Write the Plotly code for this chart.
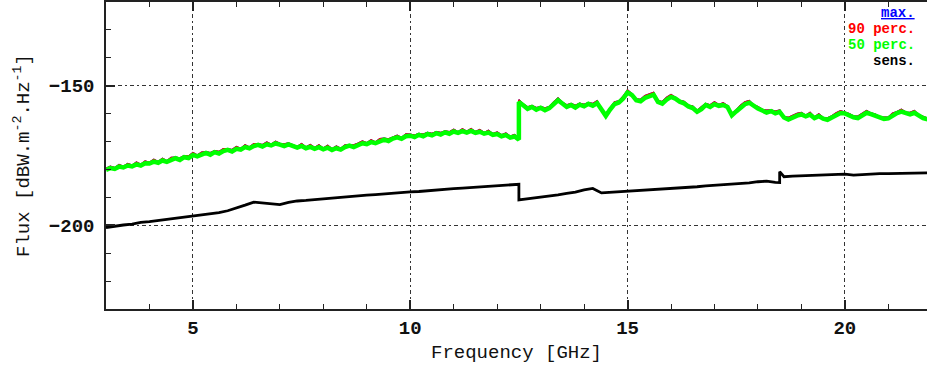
import plotly.graph_objects as go

# ---------------- data ----------------
freq = [
    3.0, 3.1, 3.2, 3.3, 3.4, 3.5, 3.6, 3.7, 3.8, 3.9,
    4.0, 4.1, 4.2, 4.3, 4.4, 4.5, 4.6, 4.7, 4.8, 4.9,
    5.0, 5.1, 5.2, 5.3, 5.4, 5.5, 5.6, 5.7, 5.8, 5.9,
    6.0, 6.1, 6.2, 6.3, 6.4, 6.5, 6.6, 6.7, 6.8, 6.9,
    7.0, 7.1, 7.2, 7.3, 7.4, 7.5, 7.6, 7.7, 7.8, 7.9,
    8.0, 8.1, 8.2, 8.3, 8.4, 8.5, 8.6, 8.7, 8.8, 8.9,
    9.0, 9.1, 9.2, 9.3, 9.4, 9.5, 9.6, 9.7, 9.8, 9.9,
    10.0, 10.1, 10.2, 10.3, 10.4, 10.5, 10.6, 10.7, 10.8, 10.9,
    11.0, 11.1, 11.2, 11.3, 11.4, 11.5, 11.6, 11.7, 11.8, 11.9,
    12.0, 12.1, 12.2, 12.3, 12.4,
    12.5, 12.5,
    12.6, 12.7, 12.8, 12.9,
    13.0, 13.1, 13.2, 13.3, 13.4, 13.5, 13.6, 13.7, 13.8, 13.9,
    14.0, 14.1, 14.2, 14.3, 14.4, 14.5, 14.6, 14.7, 14.8, 14.9,
    15.0, 15.1, 15.2, 15.3, 15.4, 15.5, 15.6, 15.7, 15.8, 15.9,
    16.0, 16.1, 16.2, 16.3, 16.4, 16.5, 16.6, 16.7, 16.8, 16.9,
    17.0, 17.1, 17.2, 17.3, 17.4, 17.5, 17.6, 17.7, 17.8, 17.9,
    18.0, 18.1, 18.2, 18.3, 18.4, 18.5, 18.6, 18.7, 18.8, 18.9,
    19.0, 19.1, 19.2, 19.3, 19.4, 19.5, 19.6, 19.7, 19.8, 19.9,
    20.0, 20.1, 20.2, 20.3, 20.4, 20.5, 20.6, 20.7, 20.8, 20.9,
    21.0, 21.1, 21.2, 21.3, 21.4, 21.5, 21.6, 21.7, 21.8, 21.9,
    22.0,
]

p50_vals = [
    -180.2, -179.5, -179.8, -179.0, -179.3, -178.6, -178.9, -178.2, -178.6, -177.8,
    -177.9, -177.2, -177.6, -176.8, -177.3, -176.5, -176.0, -176.6, -175.6, -175.9,
    -174.8, -175.3, -174.6, -174.1, -174.7, -173.8, -174.3, -173.4, -173.0, -173.6,
    -172.6, -172.9, -172.0, -172.4, -171.6, -171.2, -171.8, -171.0, -171.4, -170.7,
    -171.1, -171.6, -171.0, -171.8, -172.2, -171.6, -172.4, -171.9, -172.6, -172.0,
    -172.8, -172.2, -173.0, -172.4, -172.9, -172.0, -171.5, -172.0, -171.1, -170.6,
    -170.9, -170.2, -170.6, -169.8, -169.3, -169.8, -168.9, -168.5, -169.0, -168.1,
    -167.9, -168.4, -167.6, -168.1, -167.3, -167.8, -167.0, -167.5, -166.7, -167.2,
    -166.4, -166.9, -166.3, -166.8, -166.2, -166.9, -166.5, -167.2, -166.8, -167.6,
    -167.3, -168.1, -167.7, -168.6, -168.2,
    -169.3, -155.8,
    -157.0, -158.3, -157.6, -158.6,
    -157.9, -158.8, -158.0, -156.6, -155.2, -156.4, -157.6, -156.9, -157.8, -156.8,
    -157.4, -156.5, -157.2, -156.2, -158.9, -160.8, -158.5, -156.6, -156.0, -154.6,
    -152.4, -153.3, -155.2, -155.6, -154.4, -153.6, -153.2, -155.8, -156.4, -155.0,
    -154.0, -154.6, -155.7, -156.3, -157.4, -158.0, -159.3, -158.4, -156.9, -157.6,
    -156.6, -157.2, -156.9, -157.6, -160.6, -159.2, -157.8, -156.6, -156.1, -157.3,
    -158.2, -158.9, -159.6, -159.1, -159.9, -159.4, -161.4, -162.1, -161.2, -160.7,
    -160.3, -161.0, -160.4, -161.6, -160.9, -161.8, -162.2, -161.3, -160.5, -159.8,
    -159.9, -160.7, -161.3, -161.6, -160.4, -159.7, -160.2, -160.9, -161.6, -161.9,
    -161.7, -160.6, -159.8, -159.3, -159.9, -160.3, -159.7, -160.8, -161.6, -162.0,
    -161.5,
]

p90_vals = [
    -179.6, -178.9, -179.4, -178.3, -178.9, -177.9, -178.5, -177.4, -178.2, -177.0,
    -177.5, -176.4, -177.2, -176.0, -176.9, -175.7, -175.6, -175.9, -175.1, -175.2,
    -174.0, -174.9, -173.8, -173.7, -174.0, -173.3, -173.6, -172.6, -172.6, -172.9,
    -171.8, -172.5, -171.2, -172.0, -170.8, -170.8, -171.1, -170.2, -171.0, -169.9,
    -170.7, -170.9, -170.5, -171.1, -171.8, -170.8, -172.0, -171.1, -172.2, -171.2,
    -172.4, -171.4, -172.6, -171.6, -172.5, -171.2, -171.1, -171.2, -170.6, -169.8,
    -170.5, -169.4, -170.2, -169.0, -168.8, -169.1, -168.4, -167.8, -168.6, -167.3,
    -167.4, -167.7, -167.1, -167.4, -166.8, -167.1, -166.5, -166.8, -166.2, -166.5,
    -165.6, -166.5, -165.5, -166.4, -165.4, -166.5, -165.7, -166.8, -166.0, -167.2,
    -166.6, -167.6, -167.0, -168.1, -167.5,
    -168.9, -155.0,
    -156.6, -157.6, -157.1, -157.9,
    -157.5, -158.0, -157.5, -155.8, -154.4, -156.0, -156.9, -156.4, -157.1, -156.3,
    -156.7, -156.1, -156.4, -155.4, -158.5, -160.1, -158.0, -155.8, -155.5, -153.8,
    -151.6, -152.9, -154.8, -154.9, -153.6, -153.1, -152.4, -155.4, -155.7, -154.2,
    -153.2, -154.2, -155.3, -155.6, -157.0, -157.3, -158.9, -157.6, -156.4, -156.9,
    -155.8, -156.8, -156.1, -157.2, -159.9, -158.7, -157.0, -155.8, -155.3, -156.9,
    -157.5, -158.5, -158.8, -158.7, -159.1, -158.7, -161.0, -161.4, -160.7, -159.9,
    -159.6, -160.6, -159.6, -161.2, -160.1, -161.4, -161.5, -160.8, -159.7, -159.0,
    -159.5, -160.0, -160.9, -160.9, -159.9, -158.9, -159.8, -160.2, -161.2, -161.2,
    -161.3, -159.8, -159.3, -158.5, -159.5, -159.6, -158.9, -160.4, -160.9, -161.6,
    -160.8,
]

# maximum curve is hidden underneath the 90th percentile in the original
max_vals = list(p90_vals)

sens_freq = [
    3.0, 3.2, 3.4, 3.6, 3.8, 4.0, 4.2, 4.4, 4.6, 4.8,
    5.0, 5.2, 5.4, 5.6, 5.8, 6.0, 6.2, 6.4, 6.6, 6.8,
    7.0, 7.2, 7.4, 7.6, 7.8, 8.0, 8.2, 8.4, 8.6, 8.8,
    9.0, 9.2, 9.4, 9.6, 9.8, 10.0, 10.2, 10.4, 10.6, 10.8,
    11.0, 11.2, 11.4, 11.6, 11.8, 12.0, 12.2, 12.4,
    12.5, 12.5, 12.6,
    12.8, 13.0, 13.2, 13.4, 13.6, 13.8, 14.0, 14.2, 14.4, 14.6,
    14.8, 15.0, 15.2, 15.4, 15.6, 15.8, 16.0, 16.2, 16.4, 16.6,
    16.8, 17.0, 17.2, 17.4, 17.6, 17.8, 18.0, 18.2, 18.4,
    18.5, 18.5,
    18.6, 18.8, 19.0, 19.2, 19.4, 19.6, 19.8, 20.0, 20.2, 20.4,
    20.6, 20.8, 21.0, 21.2, 21.4, 21.6, 21.8, 22.0,
]

sens_vals = [
    -200.8, -200.3, -199.9, -199.6, -199.0, -198.7, -198.3, -197.9, -197.6, -197.2,
    -196.9, -196.5, -196.0, -195.5, -194.8, -193.9, -192.8, -191.7, -192.0, -192.3,
    -192.6, -191.8, -191.3, -191.1, -190.8, -190.6, -190.3, -190.0, -189.7, -189.5,
    -189.2, -189.0, -188.7, -188.5, -188.2, -188.0, -187.9, -187.6, -187.4, -187.1,
    -186.9, -186.7, -186.5, -186.3, -186.1, -185.9, -185.6, -185.4,
    -185.3, -190.9, -190.7,
    -190.5, -190.0, -189.6, -189.1, -188.6, -188.1, -187.3, -186.8, -188.4, -188.2,
    -188.1, -188.0, -187.8, -187.6, -187.3, -187.0, -186.8, -186.6, -186.4, -186.2,
    -185.9, -185.7, -185.5, -185.3, -185.0, -184.8, -184.4, -184.2, -184.6,
    -184.7, -180.8,
    -182.6, -182.4, -182.3, -182.1, -182.0, -181.9, -181.8, -181.7, -182.0, -181.8,
    -181.6, -181.5, -181.5, -181.4, -181.3, -181.4, -181.3, -181.2,
]

x_ticks = [5, 10, 15, 20]
y_ticks = [-200, -150]

legend_labels = ["<u>max.</u>", "90 perc.", "50 perc.", "sens."]
legend_colors = ["#0000ff", "#ff0000", "#00ff00", "#000000"]

# ---------------- figure ----------------
MONO = "Liberation Mono"

fig = go.Figure()
fig.add_trace(go.Scatter(x=freq, y=max_vals, mode="lines",
                         line=dict(color="#0000ff", width=1.5), name="max."))
fig.add_trace(go.Scatter(x=freq, y=p90_vals, mode="lines",
                         line=dict(color="#ff0000", width=1.5), name="90 perc."))
fig.add_trace(go.Scatter(x=freq, y=p50_vals, mode="lines",
                         line=dict(color="#00ff00", width=4.5), name="50 perc."))
fig.add_trace(go.Scatter(x=sens_freq, y=sens_vals, mode="lines",
                         line=dict(color="#000000", width=2.8), name="sens."))

legend_y = [-123.8, -129.5, -135.3, -141.0]
for lab, col, yy in zip(legend_labels, legend_colors, legend_y):
    fig.add_annotation(x=21.66, y=yy, xref="x", yref="y", text=lab,
                       showarrow=False, xanchor="right", yanchor="middle",
                       font=dict(family=MONO, size=14, color=col, weight="bold"))

fig.update_layout(
    width=927, height=367,
    margin=dict(l=106, r=0, t=2, b=58),
    paper_bgcolor="white", plot_bgcolor="white",
    showlegend=False,
    xaxis=dict(
        range=[3, 21.89], tickvals=x_ticks, ticktext=[str(v) for v in x_ticks],
        ticks="inside", ticklen=9, tickwidth=1.5, tickcolor="#222",
        showline=True, linecolor="#222", linewidth=1.5, mirror="ticks",
        showgrid=True, gridcolor="#333", gridwidth=1.3, griddash="4px,3px,2px,3px",
        zeroline=False,
        minor=dict(dtick=1, tick0=0, ticks="inside", ticklen=5, tickwidth=1.3,
                   tickcolor="#222", showgrid=False),
        tickfont=dict(family=MONO, size=19, color="#111", weight="bold"),
        title=dict(text="Frequency [GHz]", standoff=6,
                   font=dict(family=MONO, size=19, color="#111")),
    ),
    yaxis=dict(
        range=[-230, -120], tickvals=y_ticks, ticktext=["\u2212200", "\u2212150"],
        ticks="inside", ticklen=9, tickwidth=1.5, tickcolor="#222",
        showline=True, linecolor="#222", linewidth=1.5, mirror=False,
        showgrid=True, gridcolor="#333", gridwidth=1.3, griddash="4px,3px,2px,3px",
        zeroline=False,
        minor=dict(dtick=10, tick0=0, ticks="inside", ticklen=5, tickwidth=1.3,
                   tickcolor="#222", showgrid=False),
        tickfont=dict(family=MONO, size=19, color="#111", weight="bold"),
        ticklabelstandoff=6,
        title=dict(text="Flux [dBW.m<sup>-2</sup>.Hz<sup>-1</sup>]", standoff=14,
                   font=dict(family=MONO, size=19, color="#111")),
    ),
)

fig.write_html("out.html")
